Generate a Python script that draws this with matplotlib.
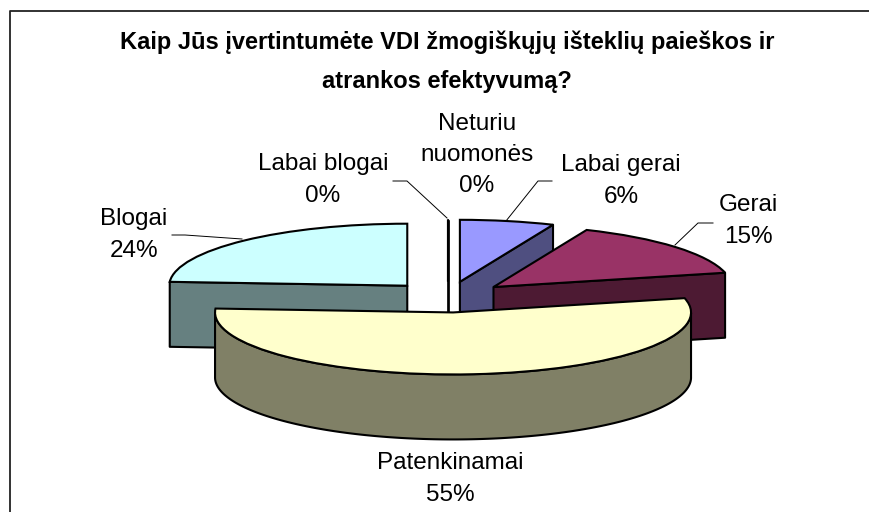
import numpy as np
import matplotlib
matplotlib.use("Agg")
import matplotlib.pyplot as plt
from matplotlib.patches import Polygon

plt.rcParams['font.family'] = ['Liberation Sans', 'DejaVu Sans']

# Data
categories = ["Labai gerai", "Gerai", "Patenkinamai", "Blogai", "Labai blogai", "Neturiu\nnuomonės"]
values = [6.4, 14.9, 54.7, 24.0, 0.0, 0.0]
title = "Kaip Jūs įvertintumėte VDI žmogiškųjų išteklių paieškos ir\natrankos efektyvumą?"

top_colors = ["#9999FF", "#993366", "#FFFFCC", "#CCFFFF", "#660066", "#FF8080"]
wall_colors = ["#4F4F80", "#4D1A33", "#808066", "#668080", "#330033", "#804040"]

# Pixel layout of the picture
W, H = 869, 512
CX, CY, RX, RY = 448, 297, 238, 62
DEPTH = 65 / RY
draw_order = [0, 3, 4, 5, 1, 2]
label_pos = [(621, 181), (748, 221), (450, 479), (134, 235), (323, 180), (477, 155)]
leaders = [
    [(552, 181), (538, 181), (506, 221)],
    [(713, 223), (698, 223), (675, 245)],
    [(172, 235), (185, 235), (242, 239)],
    [(393, 181), (407, 181), (447, 218)],
]


def to_data(x, y):
    return (x - CX) / RX, (CY - y) / RY


fig = plt.figure(figsize=(W / 100, H / 100), dpi=100)
ax = fig.add_axes([0, 0, 1, 1])

wedges, _ = ax.pie(values, explode=[0.25] * len(values), startangle=90, counterclock=False,
                   colors=top_colors, wedgeprops={"edgecolor": "black", "linewidth": 1.5})
ax.set_aspect("auto")
ax.set_xlim(to_data(0, 0)[0], to_data(W, 0)[0])
ax.set_ylim(to_data(0, H)[1], to_data(0, 0)[1])

# side walls under each slice, back slices first
for rank, i in enumerate(draw_order):
    w = wedges[i]
    w.set_zorder(2 * rank + 3)
    cx, cy = w.center
    t1, t2 = w.theta1, w.theta2
    walls = []

    # the empty slices only show up as a heavy line
    lw = 1.0 if values[i] == 0 else 1.5

    # cut faces that turn towards the viewer
    for t, visible in [(t1, np.cos(np.radians(t1)) > 0.01), (t2, np.cos(np.radians(t2)) < -0.01)]:
        if visible or values[i] == 0:
            px = cx + np.cos(np.radians(t))
            py = cy + np.sin(np.radians(t))
            walls.append([(cx, cy), (px, py), (px, py - DEPTH), (cx, cy - DEPTH)])

    # outer rim, only the front half shows
    angles = np.radians(np.linspace(t1, t2, 300))
    angles = angles[np.sin(angles) <= 0]
    if len(angles) > 1:
        rx = cx + np.cos(angles)
        ry = cy + np.sin(angles)
        walls.append(list(zip(rx, ry)) + list(zip(rx[::-1], ry[::-1] - DEPTH)))

    for pts in walls:
        ax.add_patch(Polygon(pts, closed=True, facecolor=wall_colors[i], edgecolor="black",
                             linewidth=lw, joinstyle="round", zorder=2 * rank + 2))

# chart frame, only its top and left edges are in the picture
fx, fy = zip(to_data(10, H), to_data(10, 11), to_data(W, 11))
ax.plot(fx, fy, color="#222222", linewidth=1.3, zorder=1)

for (lx, ly), name, val in zip(label_pos, categories, values):
    fig.text(lx / W, 1 - ly / H, f"{name}\n{val:.0f}%", ha="center", va="center",
             fontsize=17.5, linespacing=1.55, color="black")

for line in leaders:
    xs, ys = zip(*[to_data(x, y) for x, y in line])
    ax.plot(xs, ys, color="black", linewidth=0.7, zorder=30)

fig.text(447 / W, 1 - 62 / H, title, ha="center", va="center", fontsize=17,
         fontweight="bold", linespacing=1.9)

fig.savefig("out.png", dpi=100)
